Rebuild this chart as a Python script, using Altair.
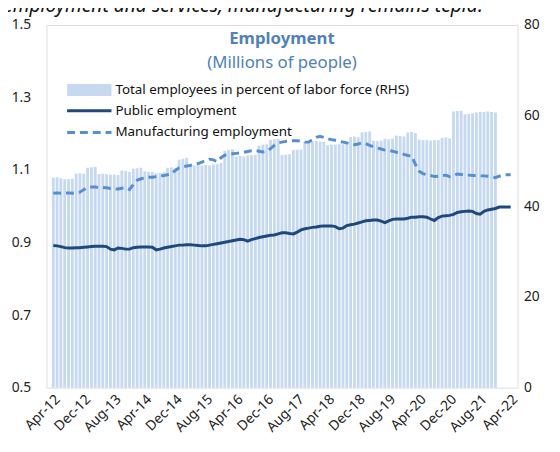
import altair as alt
import pandas as pd

# ---- data (monthly, index 0 = Apr-12) ----
tick_labels = ["Apr-12", "Dec-12", "Aug-13", "Apr-14", "Dec-14", "Aug-15", "Apr-16", "Dec-16",
               "Aug-17", "Apr-18", "Dec-18", "Aug-19", "Apr-20", "Dec-20", "Aug-21", "Apr-22"]
tick_months = [0, 8, 16, 24, 32, 40, 48, 56, 64, 72, 80, 88, 96, 104, 112, 120]

# Total employees in percent of labor force (RHS), Apr-12 .. Dec-21
total_pct = [
    46.3, 46.4, 46.2, 46.0, 46.0, 46.1, 47.2, 47.3, 47.2, 48.5, 48.6, 48.7,
    47.1, 47.2, 47.1, 47.0, 47.0, 46.9, 47.9, 47.8, 47.6, 48.3, 48.4, 48.5,
    47.7, 47.6, 47.6, 47.3, 47.4, 47.5, 48.5, 48.6, 48.4, 50.3, 50.5, 50.7,
    49.1, 49.0, 49.1, 49.0, 49.1, 49.0, 49.2, 49.3, 49.6, 52.2, 52.4, 52.6,
    51.0, 51.1, 51.0, 51.2, 51.3, 51.4, 53.4, 53.6, 53.7, 54.6, 54.8, 54.9,
    51.3, 51.4, 51.5, 52.4, 52.5, 52.5, 54.3, 54.2, 54.3, 54.4, 54.3, 54.2,
    53.5, 53.6, 53.6, 53.7, 53.7, 53.8, 55.3, 55.4, 55.2, 56.3, 56.4, 56.5,
    54.5, 54.4, 54.5, 54.9, 54.8, 54.9, 55.6, 55.5, 55.4, 56.3, 56.4, 56.2,
    54.7, 54.6, 54.6, 54.5, 54.6, 54.6, 55.1, 55.2, 55.0, 60.9, 61.0, 61.1,
    60.3, 60.4, 60.5, 60.7, 60.8, 60.8, 60.9, 60.8, 60.7,
]

# Public employment (millions), Apr-12 .. Apr-22
public_emp = [
    0.892, 0.891, 0.889, 0.886, 0.885, 0.885, 0.886, 0.886, 0.887, 0.888, 0.889, 0.890,
    0.890, 0.890, 0.889, 0.882, 0.880, 0.885, 0.884, 0.882, 0.882, 0.886, 0.887, 0.888,
    0.888, 0.888, 0.887, 0.880, 0.882, 0.885, 0.887, 0.889, 0.891, 0.893, 0.893, 0.894,
    0.894, 0.893, 0.892, 0.891, 0.891, 0.893, 0.895, 0.897, 0.899, 0.901, 0.903, 0.905,
    0.907, 0.909, 0.908, 0.904, 0.908, 0.911, 0.914, 0.916, 0.918, 0.920, 0.921, 0.924,
    0.927, 0.927, 0.925, 0.924, 0.929, 0.935, 0.938, 0.940, 0.942, 0.943, 0.945, 0.946,
    0.946, 0.946, 0.944, 0.938, 0.940, 0.947, 0.949, 0.951, 0.954, 0.957, 0.960, 0.961,
    0.962, 0.962, 0.959, 0.955, 0.960, 0.964, 0.965, 0.965, 0.965, 0.967, 0.970, 0.970,
    0.971, 0.971, 0.970, 0.965, 0.961, 0.969, 0.973, 0.974, 0.975, 0.978, 0.983, 0.985,
    0.986, 0.987, 0.986, 0.980, 0.978, 0.986, 0.990, 0.992, 0.994, 0.998, 0.998, 0.998,
    0.998,
]

# Manufacturing employment (millions), Apr-12 .. Apr-22
manuf_emp = [
    1.036, 1.037, 1.036, 1.037, 1.037, 1.036, 1.038, 1.039, 1.046, 1.052, 1.053, 1.053,
    1.052, 1.052, 1.051, 1.049, 1.048, 1.048, 1.050, 1.052, 1.046, 1.060, 1.072, 1.076,
    1.078, 1.080, 1.080, 1.082, 1.084, 1.085, 1.087, 1.089, 1.099, 1.106, 1.109, 1.111,
    1.113, 1.116, 1.118, 1.122, 1.126, 1.130, 1.128, 1.123, 1.134, 1.141, 1.143, 1.145,
    1.146, 1.147, 1.149, 1.151, 1.153, 1.154, 1.152, 1.150, 1.152, 1.159, 1.168, 1.175,
    1.177, 1.179, 1.180, 1.181, 1.181, 1.180, 1.177, 1.177, 1.184, 1.190, 1.193, 1.190,
    1.186, 1.184, 1.182, 1.179, 1.177, 1.175, 1.172, 1.170, 1.172, 1.175, 1.173, 1.168,
    1.164, 1.161, 1.158, 1.155, 1.154, 1.152, 1.149, 1.147, 1.143, 1.140, 1.139, 1.116,
    1.097, 1.090, 1.087, 1.085, 1.082, 1.083, 1.085, 1.086, 1.082, 1.085, 1.089, 1.088,
    1.086, 1.086, 1.085, 1.085, 1.084, 1.084, 1.083, 1.082, 1.079, 1.083, 1.086, 1.087,
    1.087,
]

legend_labels = ["Total employees in percent of labor force (RHS)",
                 "Public employment", "Manufacturing employment"]
title_text = "Employment"
subtitle_text = "(Millions of people)"
top_text = "employment and services, manufacturing remains tepid."

bars_df = pd.DataFrame({"m": list(range(len(total_pct))), "v": total_pct})
lines_df = pd.DataFrame({"m": list(range(len(public_emp))), "pub": public_emp, "man": manuf_emp})
ticks_df = pd.DataFrame({"m": tick_months, "lab": tick_labels})

FONT = "Noto Sans"
BAR_C = "#c6d9f1"
PUB_C = "#1f497d"
MAN_C = "#558ed5"
TITLE_C = "#4f81bd"

W, H = 478, 368
xscale = alt.Scale(domain=[-0.5, 120.5], nice=False, zero=False)

bars = alt.Chart(bars_df).mark_bar(width=2.9, color=BAR_C).encode(
    x=alt.X("m:Q", scale=xscale, axis=None),
    y=alt.Y("v:Q", scale=alt.Scale(domain=[0, 80], nice=False), title=None,
            axis=alt.Axis(orient="right", values=[0, 20, 40, 60, 80], labelPadding=6,
                          labelFontSize=14, labelFont=FONT, labelColor="#222",
                          domain=False, ticks=False, grid=False)),
)

ly = alt.Scale(domain=[0.5, 1.5], nice=False, zero=False)
laxis = alt.Axis(orient="left", values=[0.5, 0.7, 0.9, 1.1, 1.3, 1.5], format=".1f",
                 labelPadding=16, labelFontSize=14, labelFont=FONT, labelColor="#222",
                 domain=False, ticks=False, grid=False)

pub = alt.Chart(lines_df).mark_line(color=PUB_C, strokeWidth=3).encode(
    x=alt.X("m:Q", scale=xscale, axis=None),
    y=alt.Y("pub:Q", scale=ly, title=None, axis=laxis),
)
man = alt.Chart(lines_df).mark_line(color=MAN_C, strokeWidth=3, strokeDash=[8, 5]).encode(
    x=alt.X("m:Q", scale=xscale, axis=None),
    y=alt.Y("man:Q", scale=ly, axis=None),
)

# category tick labels along the x axis (rotated 45 degrees)
xlabels = alt.Chart(ticks_df).mark_text(
    font=FONT, fontSize=14, color="#222", angle=315, align="right", baseline="top"
).encode(x=alt.X("m:Q", scale=xscale, axis=None), y=alt.value(H + 5), text="lab:N")

# titles and legend (pixel positions relative to plot area)
t1 = alt.Chart(pd.DataFrame({"t": [title_text]})).mark_text(
    font=FONT, fontSize=17, fontWeight="bold", color=TITLE_C, align="center", baseline="middle"
).encode(text="t:N", x=alt.value(W / 2), y=alt.value(14))
t2 = alt.Chart(pd.DataFrame({"t": [subtitle_text]})).mark_text(
    font=FONT, fontSize=17, color=TITLE_C, align="center", baseline="middle"
).encode(text="t:N", x=alt.value(W / 2), y=alt.value(39))
t0 = alt.Chart(pd.DataFrame({"t": [top_text]})).mark_text(
    font=FONT, fontSize=19.5, fontStyle="italic", color="#111", align="left", baseline="alphabetic"
).encode(text="t:N", x=alt.value(-44), y=alt.value(-13))

leg_rect = alt.Chart(pd.DataFrame({"a": [0]})).mark_rect(color=BAR_C).encode(
    x=alt.value(21), x2=alt.value(66), y=alt.value(60), y2=alt.value(72))
leg_pub = alt.Chart(pd.DataFrame({"a": [0]})).mark_rule(color=PUB_C, strokeWidth=3).encode(
    x=alt.value(21), x2=alt.value(66), y=alt.value(87))
leg_man = alt.Chart(pd.DataFrame({"a": [0]})).mark_rule(color=MAN_C, strokeWidth=3, strokeDash=[8, 5]).encode(
    x=alt.value(21), x2=alt.value(66), y=alt.value(109))
leg_t = []
for lab, yy in zip(legend_labels, [66, 87, 109]):
    leg_t.append(alt.Chart(pd.DataFrame({"t": [lab]})).mark_text(
        font=FONT, fontSize=13.6, color="#111", align="left", baseline="middle"
    ).encode(text="t:N", x=alt.value(70), y=alt.value(yy)))

chart = alt.layer(bars, pub, man, xlabels, t1, t2, t0, leg_rect, leg_pub, leg_man, *leg_t).resolve_scale(
    y="independent"
).properties(
    width=W, height=H, autosize=alt.AutoSizeParams(type="none"),
    padding={"left": 39, "top": 14, "right": 35, "bottom": 58},
).configure_view(stroke="#d0d0d0", strokeWidth=1).configure(background="white")

chart.save("out.html", embed_options={"renderer": "svg", "actions": False})
